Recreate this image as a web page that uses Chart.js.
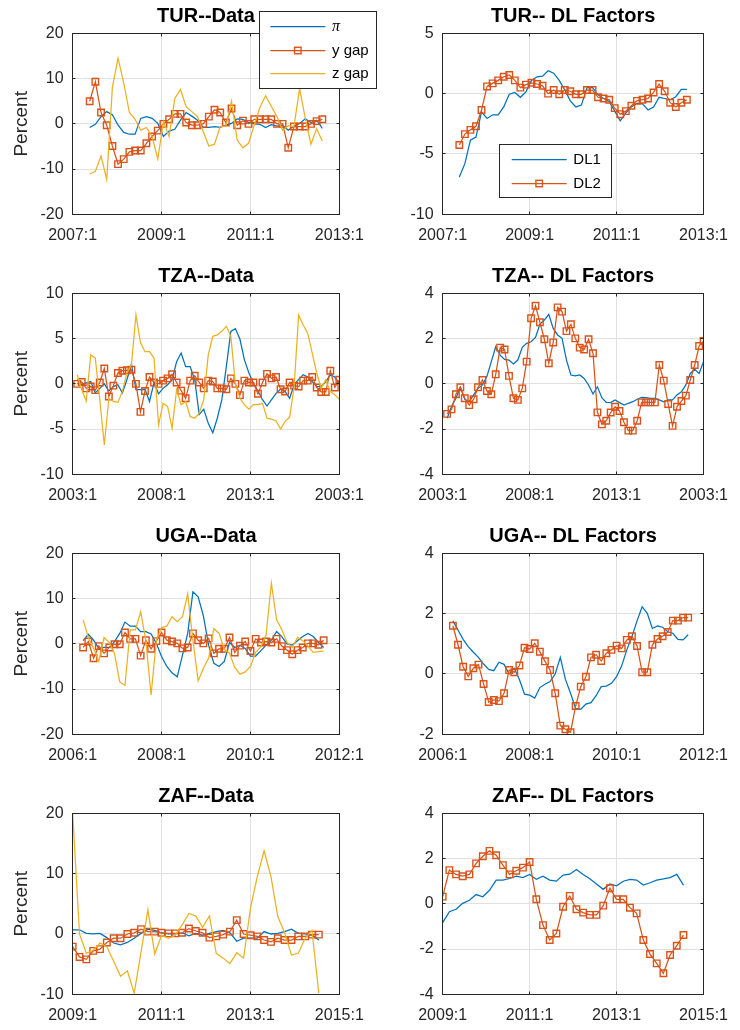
<!DOCTYPE html>
<html>
<head>
<meta charset="utf-8">
<script src="https://cdn.jsdelivr.net/npm/chart.js@4/dist/chart.umd.min.js"></script>
<style>
html,body{margin:0;padding:0;background:#fff;overflow:hidden;width:740px;height:1030px;}
canvas{position:absolute;}
</style>
</head>
<body>
<canvas id="c0" width="385" height="250" style="left:0px;top:0px;"></canvas>
<canvas id="c1" width="370" height="250" style="left:370px;top:0px;"></canvas>
<canvas id="c2" width="385" height="250" style="left:0px;top:260px;"></canvas>
<canvas id="c3" width="370" height="250" style="left:370px;top:260px;"></canvas>
<canvas id="c4" width="385" height="250" style="left:0px;top:520px;"></canvas>
<canvas id="c5" width="370" height="250" style="left:370px;top:520px;"></canvas>
<canvas id="c6" width="385" height="250" style="left:0px;top:780px;"></canvas>
<canvas id="c7" width="370" height="250" style="left:370px;top:780px;"></canvas>
<script>
// ---------- DATA ----------
const turTicks = ['2007:1','2009:1','2011:1','2013:1'];
const tzaTicks = ['2003:1','2008:1','2013:1','2003:1'];
const ugaTicks = ['2006:1','2008:1','2010:1','2012:1'];
const zafTicks = ['2009:1','2011:1','2013:1','2015:1'];

const turPi = [-0.8,-0.1,1.6,2.7,2.0,-0.3,-1.9,-2.3,-2.3,1.2,
  1.6,1.2,0.1,-2.8,-1.6,-1.2,0.8,2.5,1.7,0.8,
  -0.8,-0.8,-0.6,-0.8,-0.3,0.1,1.1,1.0,0.3,0,
  -0.1,-0.8,-0.2,-0.5,-0.3,-1.4,-0.5,0.1,1.1,0.3,
  0.8,-1.0];
const turYGap = [5.0,9.3,2.5,-0.3,-4.9,-8.9,-7.8,-6.2,-5.9,-5.9,
  -4.3,-2.8,-1.5,0,1.0,2.2,2.2,0.3,-0.3,-0.3,
  0,1.6,3.1,2.5,0.3,3.4,-0.3,0.7,0,1.0,
  1.0,1.0,1.0,0,0,-5.3,-0.6,-0.6,-0.6,0,
  0.6,1.0];
const turZGap = [-11.1,-10.5,-7.1,-12.3,8.1,14.5,9.0,2.5,1.0,-1.4,
  -0.8,-2.8,-7.8,0.5,-2.8,5.6,7.6,3.8,2.7,1.6,
  -1.7,-4.9,-4.5,-0.6,-0.5,5.0,-3.6,-5.3,-4.3,-0.3,
  3.6,6.2,3.9,1.6,-1.4,-0.4,-0.6,7.8,1.2,-4.5,
  -1.1,-3.8];
const turDL1 = [-6.9,-5.8,-3.85,-3.6,-1.5,-2.05,-1.75,-1.75,-1.1,-0.05,
  0.1,-0.3,0.15,1.1,1.4,1.45,1.9,1.7,1.1,0.3,
  -0.6,-1.1,-0.95,0.5,0.5,-0.1,-0.4,-0.65,-1.45,-2.25,
  -1.6,-1.1,-0.8,-0.85,-1.35,-1.1,-0.3,-0.4,-0.5,-0.25,
  0.35,0.35];
const turDL2 = [-4.25,-3.35,-3.0,-2.7,-1.35,0.6,0.85,1.1,1.4,1.55,
  1.1,0.5,0.75,0.9,0.8,0.65,0,0.3,-0.05,0.3,
  0.2,-0.05,-0.05,0.3,0.3,-0.3,-0.4,-0.5,-1.2,-1.7,
  -1.45,-1.0,-0.6,-0.5,-0.4,0.1,0.8,0.2,-0.75,-1.1,
  -0.75,-0.5];

const tzaPi = [0.45,-0.1,0.1,0.25,-1.0,-0.5,0,-0.8,-0.3,-0.1,
  -1.0,0.45,2.2,-0.65,-0.65,-0.6,-1.95,0.15,-1.1,-0.5,
  -0.1,0.45,2.45,3.4,1.9,1.9,0.45,-3.4,-2.8,-4.35,
  -5.4,-3.8,-1.75,1.9,5.8,6.1,4.95,2.65,1.2,0.05,
  -0.8,-1.75,-2.45,-1.75,-1.05,-0.6,-0.85,-1.6,-0.1,0.5,
  1.0,0.75,0.25,-0.3,-0.3,0.25,1.0,0.75,0];
const tzaYGap = [0,0.2,-0.5,-0.3,-0.7,0.15,1.7,-1.4,-0.2,1.2,
  1.45,1.5,1.55,0,-3.1,-0.8,0.75,0.15,0,0.35,
  0.6,1.05,0.15,-0.75,-1.6,0.35,0.9,0.15,-0.5,0.35,
  0.25,-0.5,-0.5,-0.6,0.6,0,-1.25,0.35,0.15,0.15,
  -1.1,0.15,1.1,0.6,0.75,-0.6,-0.85,0.15,-0.2,-0.3,
  0.35,0.35,0.75,-0.4,-0.9,-0.9,1.45,-0.4,0.45];
const tzaZGap = [1.0,-0.65,-1.9,3.2,2.85,-1.75,-6.75,-1.6,-1.95,-2.05,
  -0.85,1.2,2.1,7.6,4.55,3.55,3.55,2.85,-4.55,-2.15,
  -2.5,-4.9,-0.65,-2.3,-1.95,-3.6,-3.8,-3.25,-1.75,3.2,
  5.25,5.4,5.8,6.35,5.25,0,-1.6,-2.3,-2.8,-2.3,
  -2.3,-2.15,-3.8,-3.9,-4.1,-5.0,-4.15,-3.7,-0.3,7.6,
  6.5,5.6,3.4,1.2,-0.5,0.45,-0.85,-1.2,-1.7];
const tzaDL1 = [-1.52,-1.0,-0.64,-0.15,-0.68,-0.79,-0.49,-0.2,-0.05,0.32,
  0.98,1.64,1.27,1.08,1.05,0.88,1.05,1.61,1.79,1.86,
  2.05,2.64,2.82,3.07,2.45,2.16,2.01,1.05,0.39,0.35,
  0.39,0.24,-0.05,-0.45,-0.13,-0.61,-0.82,-0.83,-0.71,-0.83,
  -0.94,-0.86,-0.79,-0.68,-0.6,-0.61,-0.64,-0.64,-0.71,-0.79,
  -0.71,-0.71,-0.49,-0.35,-0.05,0.46,0.64,0.46,0.98];
const tzaDL2 = [-1.33,-1.13,-0.46,-0.15,-0.64,-0.94,-0.68,-0.15,0.17,-0.32,
  -0.46,0.42,1.6,1.52,0.35,-0.64,-0.71,-0.2,0.98,2.9,
  3.45,2.72,1.97,0.91,1.83,3.38,3.19,2.33,2.63,2.01,
  1.6,1.52,1.97,1.35,-1.26,-1.79,-1.63,-1.27,-1.01,-1.2,
  -1.7,-2.07,-2.07,-1.63,-0.82,-0.82,-0.82,-0.82,0.83,0.14,
  -0.89,-1.86,-1.01,-0.76,-0.52,0.17,0.83,1.67,1.89];

const ugaPi = [0.7,2.1,0.8,-1.0,-0.8,-0.8,0.5,2.3,4.8,3.9,
  3.9,2.7,2.7,2.2,0.1,-2.8,-5.0,-6.4,-7.3,-2.5,
  2.3,11.5,10.4,6.2,-0.3,-4.3,-5.0,-3.9,0.3,-0.8,
  -0.3,-1.0,-2.7,-2.7,-1.5,-0.3,0.8,2.7,1.6,0,
  -0.3,0.7,1.6,2.3,1.6,0.3,-0.8];
const ugaYGap = [-0.8,0.5,-3.2,-0.5,-2.1,-0.8,-0.1,-0.1,2.5,1.1,
  1.1,-2.6,0.8,-1.1,0.6,2.5,0.8,0.5,0.1,-1.0,
  -0.8,2.3,0.8,0.1,1.2,-2.1,-1.1,-1.1,1.4,-1.9,
  -0.4,0.5,-1.6,1.1,0.3,0.5,0.3,1.1,-0.5,-1.4,
  -2.3,-1.4,-0.8,0.1,0.1,-0.2,0.8];
const ugaZGap = [5.3,1.4,-1.0,-3.9,1.4,0.3,-2.1,-8.4,-9.2,3.1,
  3.1,7.1,0.7,-11.3,0.8,3.6,3.9,6.0,4.9,6.0,
  11.0,0.8,-8.2,-5.4,-3.2,3.4,2.3,-1.2,-2.1,-5.2,
  -6.7,-6.2,-5.0,-1.9,-0.6,2.0,13.4,5.3,3.1,0.3,
  -0.8,1.4,0.7,-0.5,-1.9,-1.7,-1.6];
const ugaDL1 = [1.76,1.46,1.15,0.91,0.72,0.55,0.33,0.15,0.11,0.39,
  0.32,0.0,0.19,-0.18,-0.67,-0.7,-0.8,-0.45,-0.34,-0.25,
  0.0,0.55,-0.18,-0.64,-1.14,-1.17,-1.0,-0.95,-0.72,-0.42,
  -0.4,-0.31,-0.09,0.27,0.8,1.24,1.76,2.23,2.01,1.51,
  1.59,1.55,1.4,1.35,1.15,1.13,1.3];
const ugaDL2 = [1.6,0.97,0.24,-0.08,0.19,0.31,-0.33,-0.93,-0.86,-0.9,
  -0.64,0.13,0.06,0.28,0.87,0.83,1.02,0.74,0.42,0.13,
  -0.64,-1.71,-1.83,-1.93,-1.06,-0.42,-0.09,0.55,0.64,0.43,
  0.69,0.8,0.94,0.85,1.13,1.25,0.93,0.06,0.06,0.97,
  1.16,1.25,1.39,1.77,1.77,1.87,1.87];

const zafPi = [0.7,0.7,0.1,0,0.1,-0.6,-1.5,-1.8,-1.4,-0.7,
  0.1,0.8,0.6,0.2,0,0,0.2,-0.3,0.1,-0.2,
  0.1,0.4,0.6,0.2,-1.2,-0.7,-0.7,-0.7,0.4,0,
  0.1,0.4,0.8,0.1,0,-0.2,-1.0];
const zafYGap = [-2.1,-3.8,-4.2,-2.8,-2.5,-1.4,-0.7,-0.7,0,0.2,
  0.8,0.4,0.4,0.2,0.1,0.1,0.2,0.9,0.5,0.2,
  -0.6,-0.4,-0.1,0.4,2.3,0,-0.2,-0.4,-1.0,-1.3,
  -0.7,-1.0,-1.0,-0.4,-0.4,-0.1,-0.1];
const zafZGap = [20,0,-3.2,-2.7,-1.5,-2.1,-4.5,-7.0,-6.1,-9.8,
  -3.0,4.0,-3.3,-0.2,-0.7,-0.2,1.5,3.4,3.0,1.1,
  3.0,-3.2,-4.0,-4.9,-3.1,-4.0,4.3,9.5,13.8,9.5,
  2.9,0.2,-3.5,-3.2,-0.7,0.6,-9.8];
const zafDL1 = [-0.83,-0.35,-0.24,0.02,0.16,0.41,0.31,0.6,1.05,1.05,
  1.12,1.22,1.16,1.3,1.08,1.22,1.05,1.0,1.27,1.31,
  1.52,1.3,1.11,0.88,0.64,0.88,0.8,1.0,1.08,1.05,
  0.83,0.93,1.05,1.1,1.16,1.3,0.83];
const zafDL2 = [0.32,1.49,1.3,1.22,1.3,1.79,2.1,2.34,2.15,1.71,
  1.3,1.46,1.6,1.85,0.2,-0.94,-1.6,-1.31,-0.13,0.35,
  -0.24,-0.39,-0.49,-0.49,-0.08,0.69,0.2,0.2,-0.17,-0.42,
  -1.6,-2.22,-2.63,-3.07,-2.26,-1.85,-1.38];

// ---------- STYLE ----------
const C_BLUE = '#0072BD', C_ORANGE = '#D95319', C_YELLOW = '#EDB120';
const AX = '#262626';
Chart.defaults.font.family = '"Liberation Sans", Arial, Helvetica, sans-serif';

function pts(arr){ return arr.map((v,i)=>({x:i,y:v})); }
function ds(label, arr, color, marker, order, legendFont){
  return {label, data: pts(arr), borderColor: color, backgroundColor: color,
    borderWidth: 1.25, fill: false, tension: 0,
    pointRadius: marker ? 4.6 : 0, pointHoverRadius: marker ? 4.6 : 0,
    pointStyle: 'rect', pointBorderColor: color,
    pointBackgroundColor: 'rgba(0,0,0,0)', pointBorderWidth: 1.4,
    order, legendFont};
}

const boxPlugin = {
  id: 'boxTicks',
  afterDatasetsDraw(chart){
    const {ctx, chartArea:a, scales:{x, y}} = chart;
    const L = Math.floor(a.left)+0.5, R = Math.floor(a.right)+0.5;
    const T = Math.floor(a.top)+0.5, B = Math.floor(a.bottom)+0.5;
    ctx.save();
    ctx.strokeStyle = AX; ctx.lineWidth = 1;
    ctx.beginPath();
    const tl = 3;
    x.ticks.forEach(t => {
      const p = Math.round(x.getPixelForValue(t.value)-0.5)+0.5;
      ctx.moveTo(p, B); ctx.lineTo(p, B-tl);
      ctx.moveTo(p, T); ctx.lineTo(p, T+tl);
    });
    y.ticks.forEach(t => {
      const p = Math.round(y.getPixelForValue(t.value)-0.5)+0.5;
      ctx.moveTo(L, p); ctx.lineTo(L+tl, p);
      ctx.moveTo(R, p); ctx.lineTo(R-tl, p);
    });
    ctx.stroke();
    ctx.strokeRect(L, T, R-L, B-T);
    ctx.restore();
  }
};

const legendPlugin = {
  id: 'boxLegend',
  afterDraw(chart, args, o){
    if (!o || !o.box) return;
    const ctx = chart.ctx, b = o.box;
    ctx.save();
    ctx.fillStyle = '#fff';
    ctx.fillRect(b.x, b.y, b.w, b.h);
    ctx.strokeStyle = AX; ctx.lineWidth = 1;
    ctx.strokeRect(Math.floor(b.x)+0.5, Math.floor(b.y)+0.5, Math.round(b.w), Math.round(b.h));
    chart.data.datasets.forEach((d, i) => {
      const yy = Math.round(b.y + o.first + i*o.gap) + 0.5;
      ctx.strokeStyle = d.borderColor; ctx.lineWidth = d.borderWidth;
      ctx.beginPath(); ctx.moveTo(b.x+o.l0, yy); ctx.lineTo(b.x+o.l1, yy); ctx.stroke();
      if (d.pointRadius > 0) {
        const s = d.pointRadius*Math.SQRT1_2, cx = b.x + (o.l0+o.l1)/2;
        ctx.lineWidth = d.pointBorderWidth;
        ctx.strokeRect(cx - s, yy - s, 2*s, 2*s);
      }
      ctx.fillStyle = '#000';
      ctx.textBaseline = 'middle'; ctx.textAlign = 'left';
      ctx.font = d.legendFont || '15px "Liberation Sans", Arial, sans-serif';
      ctx.fillText(d.label, b.x + o.tx, yy);
    });
    ctx.restore();
  }
};

function makePanel(id, cfg){
  const left = cfg.col === 0;
  const xMin = cfg.x[0], xMax = cfg.x[1];
  new Chart(document.getElementById(id), {
    type: 'line',
    data: {datasets: cfg.datasets},
    options: {
      responsive: false, animation: false, events: [],
      layout: {padding: {left: 0, top: 0, bottom: 0, right: left ? 45.67 : 28.33}},
      plugins: {
        legend: {display: false}, tooltip: {enabled: false},
        title: {display: true, text: cfg.title, fullSize: false, color: '#000',
          font: {size: 20, weight: 'bold'}, padding: {top: 4.8, bottom: 4.53}},
        boxLegend: cfg.legend || false
      },
      scales: {
        x: {type: 'linear', min: xMin, max: xMax,
          afterBuildTicks: s => { s.ticks = [0,1,2,3].map(k => ({value: xMin + k*(xMax-xMin)/3})); },
          afterFit: s => { s.height = 35.67; },
          ticks: {callback: (v, i) => cfg.ticks[i], color: AX, font: {size: 16}, padding: 12,
            maxRotation: 0, autoSkip: false},
          grid: {color: '#e0e0e0', lineWidth: 1, drawTicks: false},
          border: {display: false}},
        y: {type: 'linear', min: cfg.y[0], max: cfg.y[1],
          afterFit: s => { s.width = 72.67; },
          ticks: {stepSize: cfg.y[2], color: AX, font: {size: 16}, padding: 9},
          grid: {color: '#e0e0e0', lineWidth: 1, drawTicks: false},
          border: {display: false},
          title: left ? {display: true, text: 'Percent', color: AX, font: {size: 19},
            padding: {top: 10, bottom: 0}} : {display: false}}
      }
    },
    plugins: [boxPlugin, legendPlugin]
  });
}

const piFont = 'italic 16px "Liberation Serif", "DejaVu Serif", serif';
function dataSets(pi, yg, zg){
  return [ds('\u03C0', pi, C_BLUE, false, 3, piFont), ds('y gap', yg, C_ORANGE, true, 2), ds('z gap', zg, C_YELLOW, false, 1)];
}
function dlSets(d1, d2){
  return [ds('DL1', d1, C_BLUE, false, 2), ds('DL2', d2, C_ORANGE, true, 1)];
}

makePanel('c0', {col:0, title:'TUR--Data', datasets: dataSets(turPi, turYGap, turZGap),
  x:[-3,44], ticks: turTicks, y:[-20,20,10],
  legend: {box:{x:259.3, y:11, w:117, h:77.3}, first:15, gap:23.6, l0:11, l1:66, tx:72.7}});
makePanel('c1', {col:1, title:'TUR-- DL Factors', datasets: dlSets(turDL1, turDL2),
  x:[-3,44], ticks: turTicks, y:[-10,5,5],
  legend: {box:{x:129, y:144, w:111.7, h:53.3}, first:15.3, gap:23.4, l0:12.7, l1:67.7, tx:74.3}});
makePanel('c2', {col:0, title:'TZA--Data', datasets: dataSets(tzaPi, tzaYGap, tzaZGap),
  x:[-1,58], ticks: tzaTicks, y:[-10,10,5]});
makePanel('c3', {col:1, title:'TZA-- DL Factors', datasets: dlSets(tzaDL1, tzaDL2),
  x:[-1,58], ticks: tzaTicks, y:[-4,4,2]});
makePanel('c4', {col:0, title:'UGA--Data', datasets: dataSets(ugaPi, ugaYGap, ugaZGap),
  x:[-2,49], ticks: ugaTicks, y:[-20,20,10]});
makePanel('c5', {col:1, title:'UGA-- DL Factors', datasets: dlSets(ugaDL1, ugaDL2),
  x:[-2,49], ticks: ugaTicks, y:[-2,4,2]});
makePanel('c6', {col:0, title:'ZAF--Data', datasets: dataSets(zafPi, zafYGap, zafZGap),
  x:[0,39], ticks: zafTicks, y:[-10,20,10]});
makePanel('c7', {col:1, title:'ZAF-- DL Factors', datasets: dlSets(zafDL1, zafDL2),
  x:[0,39], ticks: zafTicks, y:[-4,4,2]});
</script>
</body>
</html>
